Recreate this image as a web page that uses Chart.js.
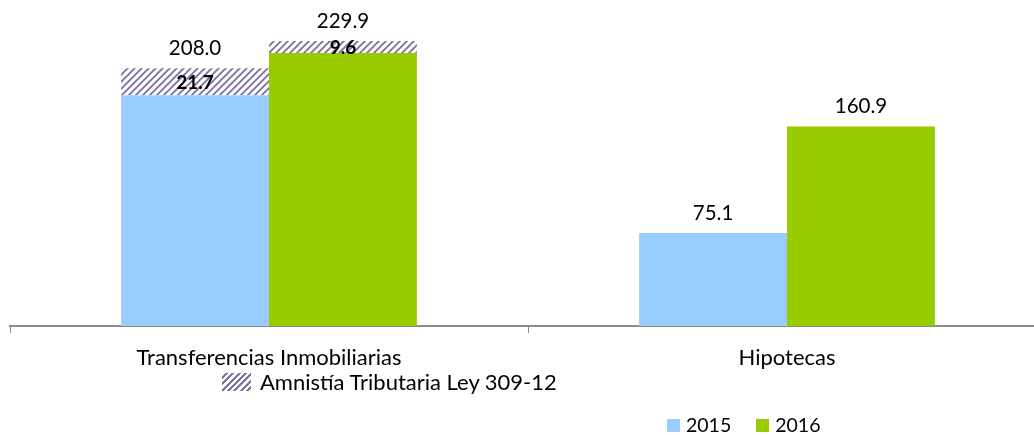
<!DOCTYPE html>
<html><head><meta charset="utf-8">
<script src="https://cdn.jsdelivr.net/npm/chart.js@4.4.0/dist/chart.umd.min.js"></script>
<style>
html,body{margin:0;padding:0;background:#fff;overflow:hidden;width:1034px;height:435px;}
#wrap{position:absolute;left:0;top:0;width:1046px;height:435px;}
.lg{position:absolute;font-family:Lato,sans-serif;color:#000;display:flex;align-items:center;white-space:nowrap;line-height:22px;}
.sw{display:inline-block;width:13px;height:13px;margin-right:6px;}
.hatch{width:29px;height:18px;margin-right:9px;background:repeating-linear-gradient(135deg,#ffffff 0px,#ffffff 2.5px,#7f72a0 2.5px,#7f72a0 4.5px);}
</style></head><body>
<div id="wrap"><canvas id="c"></canvas></div>
<div class="lg" style="left:222px;top:371px;font-size:22px;"><span class="sw hatch"></span><span>Amnistía Tributaria Ley 309-12</span></div>
<div class="lg" style="left:667px;top:414px;font-size:19.5px;"><span class="sw" style="background:#99CCFF"></span><span>2015</span><span class="sw" style="background:#99CC00;margin-left:25px"></span><span>2016</span></div>
<script>
const categories = ['Transferencias Inmobiliarias', 'Hipotecas'];
const base2015 = [186.3, 75.1];
const base2016 = [220.3, 160.9];
const amnistia2015 = [21.7, null];
const amnistia2016 = [9.6, null];
const seriesNames = ['2015', '2016', 'Amnistía Tributaria Ley 309-12'];

function hatchPattern() {
  const s = 7, c = document.createElement('canvas');
  c.width = s; c.height = s;
  const g = c.getContext('2d');
  g.fillStyle = '#ffffff'; g.fillRect(0, 0, s, s);
  g.strokeStyle = '#7f72a0'; g.lineWidth = 1.9;
  g.beginPath();
  g.moveTo(-1, s + 1); g.lineTo(s + 1, -1);
  g.moveTo(-1, 1); g.lineTo(1, -1);
  g.moveTo(s - 1, s + 1); g.lineTo(s + 1, s - 1);
  g.stroke();
  return g.createPattern(c, 'repeat');
}

const labelPlugin = {
  id: 'valueLabels',
  afterDatasetsDraw(chart) {
    const ctx = chart.ctx;
    ctx.save();
    ctx.textAlign = 'center';
    ctx.textBaseline = 'middle';
    ctx.fillStyle = '#000';
    const pairs = [[0, 2], [1, 3]];
    pairs.forEach(([bi, ai]) => {
      const bm = chart.getDatasetMeta(bi), am = chart.getDatasetMeta(ai);
      const bd = chart.data.datasets[bi].data, ad = chart.data.datasets[ai].data;
      bd.forEach((v, i) => {
        const extra = ad[i];
        let top = bm.data[i].y, x = bm.data[i].x;
        if (extra != null) {
          const el = am.data[i];
          top = el.y;
          ctx.font = 'bold 19px Lato, sans-serif';
          ctx.fillText(extra.toFixed(1), el.x, (el.y + el.base) / 2 + 1);
        }
        ctx.font = '20.5px Lato, sans-serif';
        ctx.fillText((v + (extra || 0)).toFixed(1), x, top - 20);
      });
    });
    ctx.restore();
  }
};

new Chart(document.getElementById('c'), {
  type: 'bar',
  data: {
    labels: categories,
    datasets: [
      { label: seriesNames[0], data: base2015, backgroundColor: '#99CCFF', stack: 's2015' },
      { label: seriesNames[1], data: base2016, backgroundColor: '#99CC00', stack: 's2016' },
      { label: seriesNames[2], data: amnistia2015, backgroundColor: hatchPattern(), stack: 's2015' },
      { label: seriesNames[2] + ' 2016', data: amnistia2016, backgroundColor: hatchPattern(), stack: 's2016' }
    ]
  },
  options: {
    responsive: true,
    maintainAspectRatio: false,
    animation: false,
    categoryPercentage: 0.571,
    barPercentage: 1.0,
    layout: { padding: { left: 10, top: 10, right: 0, bottom: 0 } },
    plugins: { legend: { display: false }, tooltip: { enabled: false } },
    scales: {
      x: {
        stacked: true,
        grid: { display: true, drawOnChartArea: false, drawTicks: true, tickLength: 7, color: '#8c8c8c', offset: true, lineWidth: 1 },
        border: { display: true, color: '#8c8c8c', width: 2 },
        ticks: { color: '#000', font: { family: 'Lato, sans-serif', size: 22 }, padding: 12, maxRotation: 0 },
        afterFit: (s) => { s.height = 109; }
      },
      y: { stacked: true, display: false, min: 0, max: 255 }
    }
  },
  plugins: [labelPlugin]
});
</script>
</body></html>
